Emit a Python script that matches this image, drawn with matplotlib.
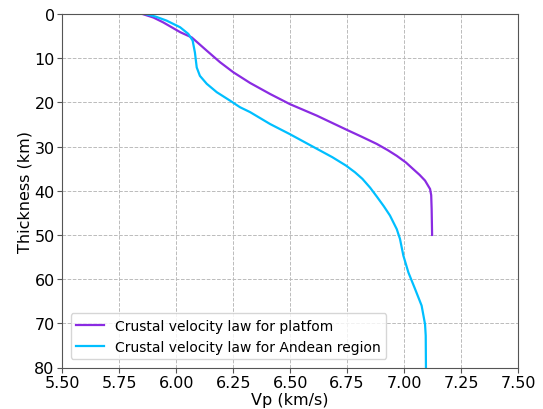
import numpy as np
import matplotlib
matplotlib.use('Agg')
import matplotlib.pyplot as plt

# Crustal velocity laws (Vp in km/s vs depth in km)
platform_depth = [0.0, 0.8, 1.9, 4.1, 5.3, 8.3, 10.9, 13.2, 15.6, 18.1, 20.4,
                  23.0, 26.2, 27.8, 29.4, 30.8, 32.1, 33.6, 35.1, 36.4, 37.7,
                  39.6, 41.0, 44.1, 50.0]
platform_vp = [5.852, 5.900, 5.943, 6.017, 6.068, 6.134, 6.192, 6.251, 6.324,
               6.412, 6.499, 6.617, 6.748, 6.815, 6.880, 6.928, 6.968, 7.008,
               7.040, 7.068, 7.092, 7.114, 7.119, 7.121, 7.123]

andean_depth = [0.0, 0.6, 1.5, 3.0, 4.5, 6.0, 8.7, 12.1, 14.0, 15.8, 17.7,
                19.6, 21.1, 22.2, 24.9, 27.2, 30.5, 32.4, 34.3, 35.8, 37.3,
                39.3, 41.3, 43.5, 45.6, 48.7, 50.9, 54.7, 58.5, 62.2, 66.0,
                70.2, 72.8, 80.0]
andean_vp = [5.865, 5.910, 5.958, 6.017, 6.053, 6.072, 6.082, 6.090, 6.104,
             6.134, 6.178, 6.236, 6.280, 6.324, 6.412, 6.499, 6.617, 6.685,
             6.745, 6.784, 6.817, 6.851, 6.880, 6.911, 6.938, 6.968, 6.982,
             6.997, 7.019, 7.048, 7.077, 7.092, 7.095, 7.096]

x_ticks = [5.50, 5.75, 6.00, 6.25, 6.50, 6.75, 7.00, 7.25, 7.50]
y_ticks = [0, 10, 20, 30, 40, 50, 60, 70, 80]

W, H = 543, 410

fig = plt.figure(figsize=(W / 100, H / 100), dpi=100)
ax = fig.add_axes([62.3 / W, 1 - 368.5 / H, 455.7 / W, 353.5 / H])

ax.plot(platform_vp, platform_depth, color='#8a2be2', lw=1.6,
        label='Crustal velocity law for platfom')
ax.plot(andean_vp, andean_depth, color='#00bfff', lw=1.6,
        label='Crustal velocity law for Andean region')

ax.set_xlim(5.5, 7.5)
ax.set_ylim(80, 0)
ax.set_xticks(x_ticks)
ax.set_xticklabels([f'{v:.2f}' for v in x_ticks])
ax.set_yticks(y_ticks)
ax.tick_params(labelsize=11.5, color='#555555', pad=2)
ax.grid(True, linestyle='--', color='#bbbbbb', lw=0.7)
for s in ax.spines.values():
    s.set_color('#555555')

ax.set_xlabel('Vp (km/s)', fontsize=11.5, labelpad=1)
ax.set_ylabel('Thickness (km)', fontsize=11.5)
ax.yaxis.set_label_coords(-30 / 455.7, 0.5)
ax.legend(loc='lower left', fontsize=10, borderaxespad=0.6)

fig.savefig('out.png', dpi=100)
